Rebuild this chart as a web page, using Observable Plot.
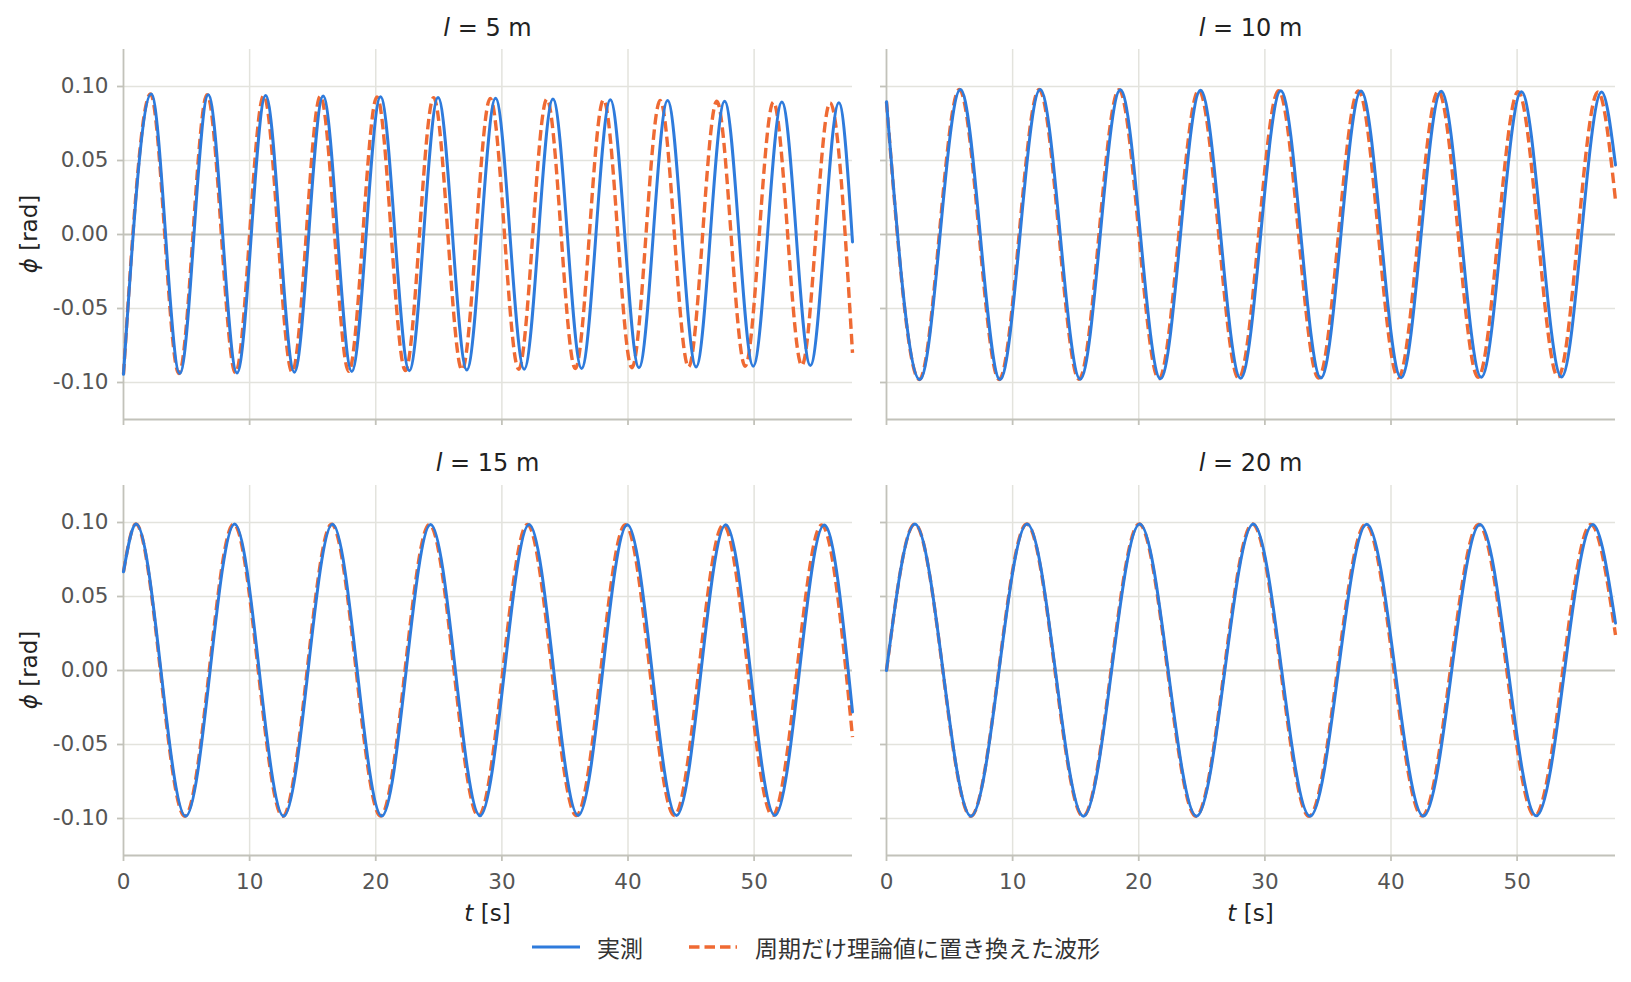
<!DOCTYPE html>
<html>
<head>
<meta charset="utf-8">
<script src="https://cdn.jsdelivr.net/npm/d3@7"></script>
<script src="https://cdn.jsdelivr.net/npm/@observablehq/plot@0.6"></script>
<style>
  html, body { margin: 0; padding: 0; background: #fff; }
  #chart { position: relative; width: 1631px; height: 982px; font-family: "DejaVu Sans", sans-serif; overflow: hidden; }
  .abs { position: absolute; white-space: nowrap; }
  .title { font-size: 24px; color: #222; transform: translate(-50%, -50%); }
  .xlab { font-size: 23px; color: #222; transform: translate(-50%, -50%); }
  .ylab { font-size: 23px; color: #222; transform: translate(-50%, -50%) rotate(-90deg); }
  .legend { font-family: "Noto Sans CJK JP", sans-serif; font-size: 23px; color: #333; }
  i { font-style: italic; }
</style>
</head>
<body>
<div id="chart"></div>
<script>
// ---- data (extrema times [s] and angles [rad]) ----
const lengths = [5, 10, 15, 20];
const xTicks = [0, 10, 20, 30, 40, 50];
const yTicks = [-0.10, -0.05, 0.00, 0.05, 0.10];
const seriesNames = ["実測", "周期だけ理論値に置き換えた波形"];

// l = 5 m
const t5Meas = [0, 2.20, 4.46, 6.72, 9.00, 11.27, 13.55, 15.83, 18.10, 20.38, 22.66, 24.94, 27.22, 29.50, 31.77, 34.05, 36.32, 38.60, 40.87, 43.14, 45.40, 47.66, 49.93, 52.20, 54.46, 56.72, 57.8];
const phi5Meas = [-0.0945, 0.095, -0.094, 0.0945, -0.0935, 0.094, -0.093, 0.0935, -0.0925, 0.093, -0.092, 0.0925, -0.0915, 0.092, -0.091, 0.0915, -0.0905, 0.091, -0.090, 0.0905, -0.0895, 0.090, -0.089, 0.0895, -0.0885, 0.089, -0.005];
const t5Theo = [0, 2.14, 4.39, 6.63, 8.88, 11.12, 13.37, 15.61, 17.86, 20.10, 22.35, 24.59, 26.84, 29.08, 31.33, 33.57, 35.82, 38.06, 40.31, 42.55, 44.80, 47.04, 49.29, 51.53, 53.78, 56.02, 57.8];
const phi5Theo = [-0.0945, 0.095, -0.094, 0.0945, -0.0935, 0.094, -0.093, 0.0935, -0.0925, 0.093, -0.092, 0.0925, -0.0915, 0.092, -0.091, 0.0915, -0.0905, 0.091, -0.090, 0.0905, -0.0895, 0.090, -0.089, 0.0895, -0.0885, 0.089, -0.080];

// l = 10 m
const t10Meas = [0, 2.64, 5.86, 9.00, 12.18, 15.36, 18.54, 21.72, 24.90, 28.08, 31.26, 34.44, 37.62, 40.80, 43.98, 47.16, 50.34, 53.52, 56.70, 57.8];
const phi10Meas = [0.0897, -0.098, 0.098, -0.098, 0.098, -0.0978, 0.0978, -0.0975, 0.0975, -0.0972, 0.0972, -0.097, 0.097, -0.0968, 0.0968, -0.0965, 0.0965, -0.0963, 0.0963, 0.047];
const t10Theo = [0, 2.60, 5.77, 8.93, 12.10, 15.26, 18.43, 21.59, 24.76, 27.92, 31.09, 34.25, 37.42, 40.58, 43.75, 46.91, 50.08, 53.24, 56.41, 57.8];
const phi10Theo = [0.0897, -0.098, 0.098, -0.098, 0.098, -0.0978, 0.0978, -0.0975, 0.0975, -0.0972, 0.0972, -0.097, 0.097, -0.0968, 0.0968, -0.0965, 0.0965, -0.0963, 0.0963, 0.023];

// l = 15 m
const t15Meas = [0, 1.00, 4.93, 8.81, 12.70, 16.57, 20.48, 24.35, 28.27, 32.16, 36.05, 39.95, 43.85, 47.75, 51.65, 55.55, 57.8];
const phi15Meas = [0.0667, 0.099, -0.0985, 0.099, -0.0985, 0.0988, -0.0983, 0.0987, -0.0982, 0.0986, -0.098, 0.0985, -0.098, 0.0984, -0.098, 0.0983, -0.028];
const t15Theo = [0, 0.98, 4.86, 8.74, 12.62, 16.50, 20.38, 24.26, 28.14, 32.02, 35.90, 39.79, 43.67, 47.56, 51.45, 55.35, 57.8];
const phi15Theo = [0.0667, 0.099, -0.0985, 0.099, -0.0985, 0.0988, -0.0983, 0.0987, -0.0982, 0.0986, -0.098, 0.0985, -0.098, 0.0984, -0.098, 0.0983, -0.045];

// l = 20 m
const t20Meas = [0, 2.25, 6.70, 11.15, 15.62, 20.08, 24.58, 29.08, 33.58, 38.08, 42.57, 47.06, 51.53, 56.00, 57.8];
const phi20Meas = [0.0, 0.099, -0.0985, 0.099, -0.0985, 0.099, -0.0985, 0.099, -0.0985, 0.0988, -0.0983, 0.0987, -0.0982, 0.0986, 0.032];
const t20Theo = [0, 2.24, 6.68, 11.12, 15.58, 20.03, 24.53, 29.02, 33.50, 37.99, 42.46, 46.95, 51.40, 55.85, 57.8];
const phi20Theo = [0.0, 0.099, -0.0985, 0.099, -0.0985, 0.099, -0.0985, 0.099, -0.0985, 0.0988, -0.0983, 0.0987, -0.0982, 0.0986, 0.024];

// ---- styling ----
const blue = "#2e7bdc";
const orange = "#ef6a33";
const gridColor = "#e3e3dd";
const spineColor = "#c2c2ba";
const zeroColor = "#c4c4bc";

const panels = [
  {len: lengths[0], tm: t5Meas,  pm: phi5Meas,  tt: t5Theo,  pt: phi5Theo,  col: 0, row: 0},
  {len: lengths[1], tm: t10Meas, pm: phi10Meas, tt: t10Theo, pt: phi10Theo, col: 1, row: 0},
  {len: lengths[2], tm: t15Meas, pm: phi15Meas, tt: t15Theo, pt: phi15Theo, col: 0, row: 1},
  {len: lengths[3], tm: t20Meas, pm: phi20Meas, tt: t20Theo, pt: phi20Theo, col: 1, row: 1}
];

const colLeft = [0, 870], colWidth = [870, 761], mLeft = [123, 16], mRight = [18, 16];
const rowTop = [0, 440], rowHeight = [440, 460], mTop = [49, 45], mBottom = [21, 45];

const chart = document.getElementById("chart");

function addDiv(cls, html, x, y) {
  const d = document.createElement("div");
  d.className = "abs " + cls;
  d.innerHTML = html;
  d.style.left = x + "px";
  d.style.top = y + "px";
  chart.appendChild(d);
  return d;
}

for (const p of panels) {
  const showY = p.col === 0;
  const showX = p.row === 1;
  const meas = p.tm.map((t, i) => ({t, phi: p.pm[i]}));
  const theo = p.tt.map((t, i) => ({t, phi: p.pt[i]}));
  const svg = Plot.plot({
    width: colWidth[p.col],
    height: rowHeight[p.row],
    marginLeft: mLeft[p.col],
    marginRight: mRight[p.col],
    marginTop: mTop[p.row],
    marginBottom: mBottom[p.row],
    x: {domain: [0, 57.8]},
    y: {domain: [-0.125, 0.125]},
    style: {fontFamily: "DejaVu Sans", fontSize: "21.5px", color: "#555", background: "transparent", overflow: "visible"},
    marks: [
      Plot.gridX(xTicks.filter(d => d > 0), {stroke: gridColor, strokeOpacity: 1, strokeWidth: 1.5}),
      Plot.gridY(yTicks.filter(d => d !== 0), {stroke: gridColor, strokeOpacity: 1, strokeWidth: 1.5}),
      Plot.ruleY([0], {stroke: zeroColor, strokeWidth: 1.8}),
      Plot.axisY({ticks: yTicks, tickSize: 6, tickPadding: 9, label: null, stroke: spineColor, strokeWidth: 1.8,
                  tickFormat: showY ? (d => d.toFixed(2)) : (() => "")}),
      Plot.axisX({ticks: xTicks, tickSize: 6, tickPadding: 12, label: null, stroke: spineColor, strokeWidth: 1.8,
                  tickFormat: showX ? (d => String(d)) : (() => "")}),
      Plot.ruleX([0], {stroke: spineColor, strokeWidth: 1.8}),
      Plot.ruleY([-0.125], {stroke: spineColor, strokeWidth: 1.8}),
      Plot.line(theo, {x: "t", y: "phi", curve: "monotone-x", stroke: orange, strokeWidth: 3.4, strokeLinecap: "butt", strokeDasharray: "10.5,5"}),
      Plot.line(meas, {x: "t", y: "phi", curve: "monotone-x", stroke: blue, strokeWidth: 3})
    ]
  });
  const wrap = document.createElement("div");
  wrap.className = "abs";
  wrap.style.left = colLeft[p.col] + "px";
  wrap.style.top = rowTop[p.row] + "px";
  wrap.appendChild(svg);
  chart.appendChild(wrap);

  const cx = colLeft[p.col] + mLeft[p.col] + (colWidth[p.col] - mLeft[p.col] - mRight[p.col]) / 2;
  const cyTitle = p.row === 0 ? 28 : 463;
  addDiv("title", `<i>l</i> = ${p.len} m`, cx, cyTitle);
  if (showX) addDiv("xlab", `<i>t</i> [s]`, cx, 913);
  if (showY) {
    const cy = rowTop[p.row] + mTop[p.row] + (rowHeight[p.row] - mTop[p.row] - mBottom[p.row]) / 2;
    addDiv("ylab", `<i>ϕ</i> [rad]`, 29, cy);
  }
}

// ---- legend ----
const legend = document.createElement("div");
legend.className = "abs legend";
legend.style.left = "532px";
legend.style.top = "930px";
legend.style.display = "flex";
legend.style.alignItems = "center";
legend.innerHTML =
  `<svg width="48" height="10" style="margin-right:17px"><line x1="0" y1="5" x2="48" y2="5" stroke="${blue}" stroke-width="3"/></svg>` +
  `<span style="margin-right:46px">${seriesNames[0]}</span>` +
  `<svg width="48" height="10" style="margin-right:18px"><line x1="0" y1="5" x2="48" y2="5" stroke="${orange}" stroke-width="3.4" stroke-dasharray="10.5,5"/></svg>` +
  `<span>${seriesNames[1]}</span>`;
chart.appendChild(legend);
</script>
</body>
</html>
